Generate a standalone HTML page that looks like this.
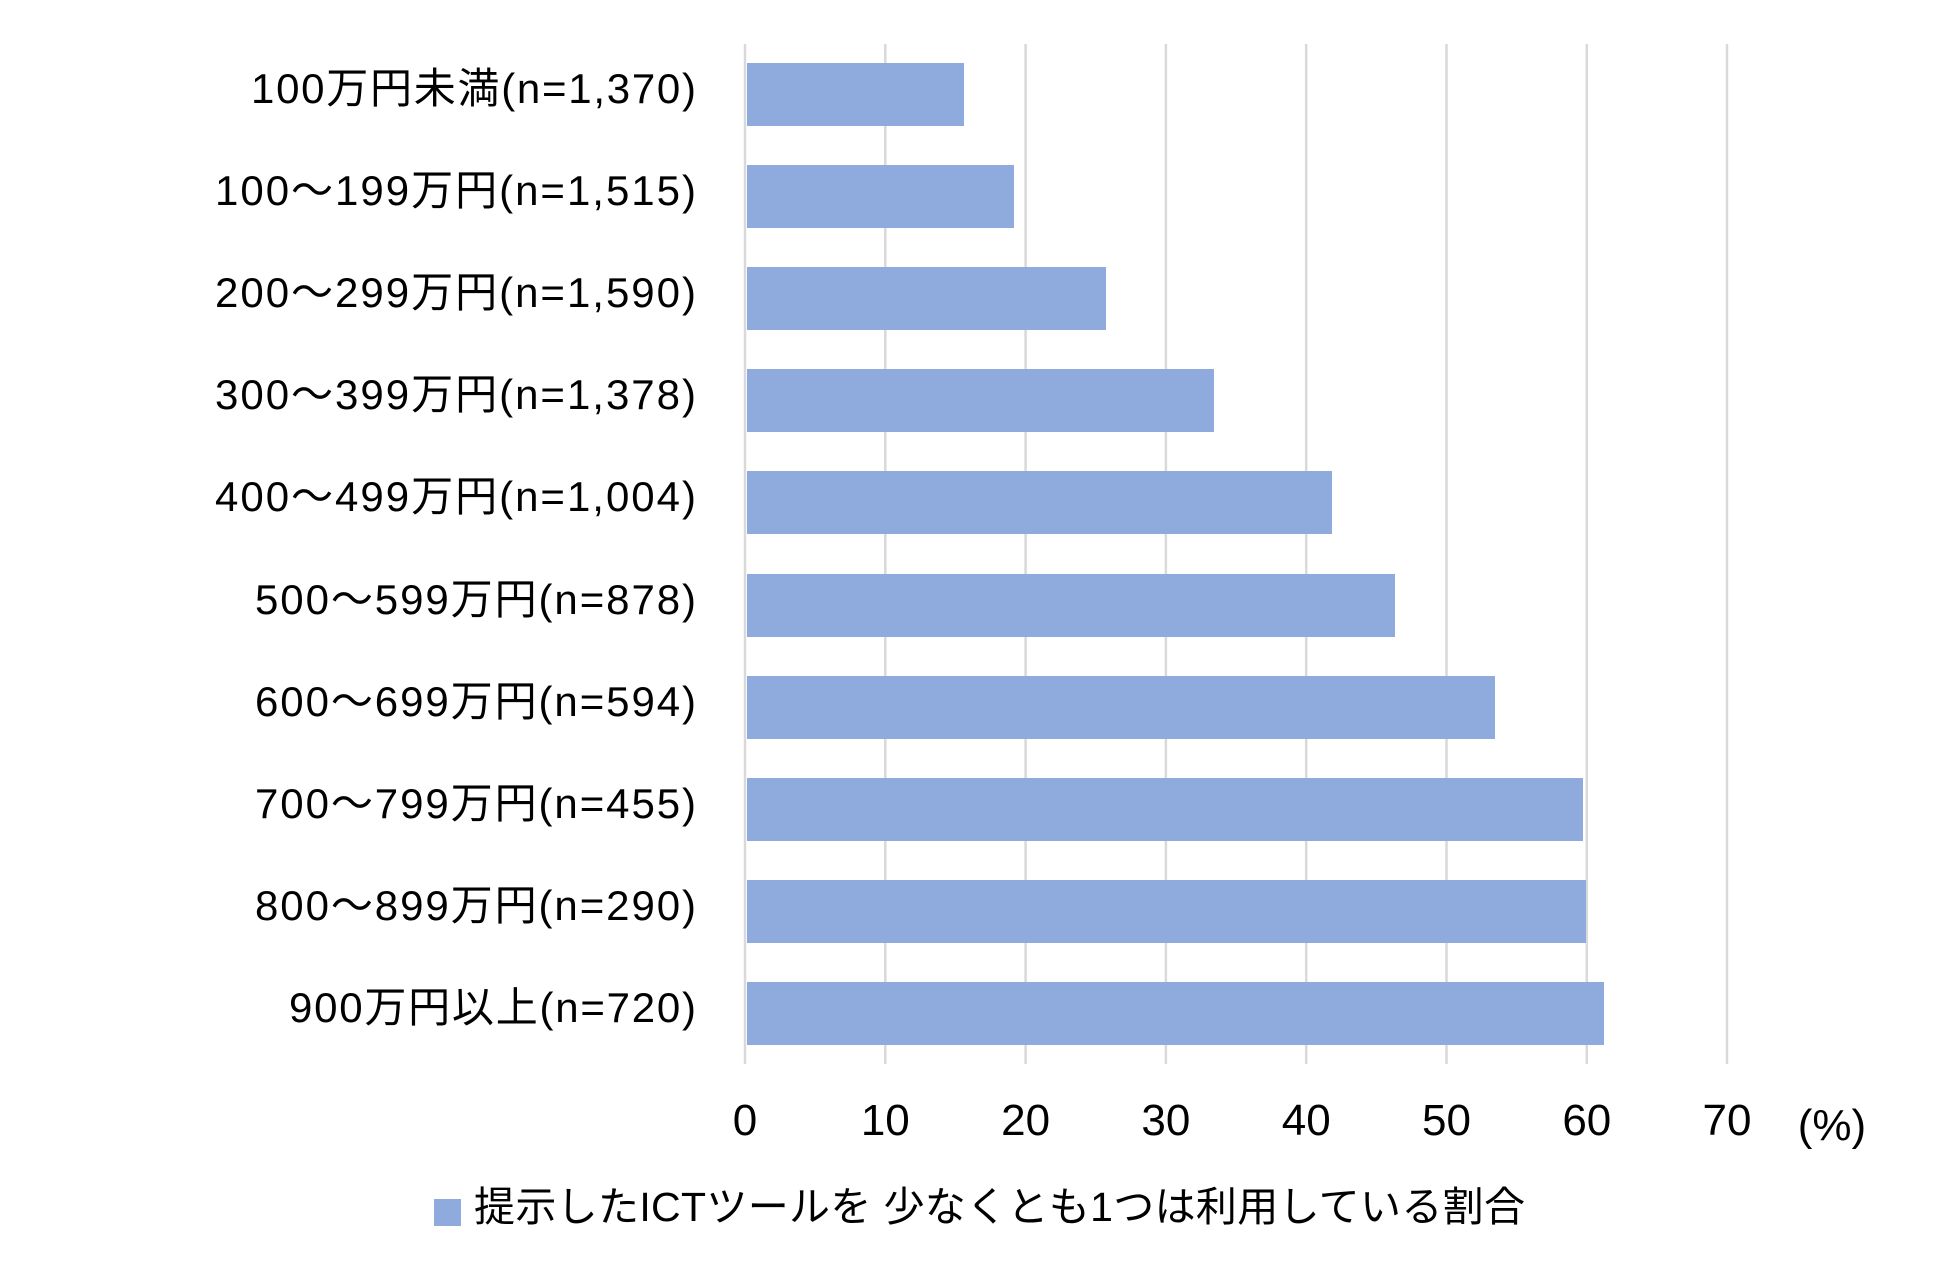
<!DOCTYPE html>
<html><head><meta charset="utf-8"><style>
html,body{margin:0;padding:0;background:#fff}
svg{display:block}
text{font-family:"Liberation Sans","Noto Sans CJK JP",sans-serif;fill:#000}
</style></head><body>
<svg width="1949" height="1285" viewBox="0 0 1949 1285">
<g stroke="#d9d9d9" stroke-width="2.5">
<line x1="745" y1="44" x2="745" y2="1064"/>
<line x1="885.3" y1="44" x2="885.3" y2="1064"/>
<line x1="1025.6" y1="44" x2="1025.6" y2="1064"/>
<line x1="1165.9" y1="44" x2="1165.9" y2="1064"/>
<line x1="1306.2" y1="44" x2="1306.2" y2="1064"/>
<line x1="1446.5" y1="44" x2="1446.5" y2="1064"/>
<line x1="1586.8" y1="44" x2="1586.8" y2="1064"/>
<line x1="1727" y1="44" x2="1727" y2="1064"/>
</g>
<g fill="#8faadc">
<rect x="747" y="63" width="217" height="63"/>
<rect x="747" y="165" width="267" height="63"/>
<rect x="747" y="267" width="359" height="63"/>
<rect x="747" y="369" width="467" height="63"/>
<rect x="747" y="471" width="585" height="63"/>
<rect x="747" y="574" width="648" height="63"/>
<rect x="747" y="676" width="748" height="63"/>
<rect x="747" y="778" width="836" height="63"/>
<rect x="747" y="880" width="839" height="63"/>
<rect x="747" y="982" width="857" height="63"/>
</g>
<g font-size="42" lengthAdjust="spacing">
<text x="251" y="103" textLength="445" lengthAdjust="spacing">100万円未満(n=1,370)</text>
<text x="215" y="205" textLength="481" lengthAdjust="spacing">100～199万円(n=1,515)</text>
<text x="215" y="307" textLength="481" lengthAdjust="spacing">200～299万円(n=1,590)</text>
<text x="215" y="409" textLength="481" lengthAdjust="spacing">300～399万円(n=1,378)</text>
<text x="215" y="511" textLength="481" lengthAdjust="spacing">400～499万円(n=1,004)</text>
<text x="255" y="614" textLength="441" lengthAdjust="spacing">500～599万円(n=878)</text>
<text x="255" y="716" textLength="441" lengthAdjust="spacing">600～699万円(n=594)</text>
<text x="255" y="818" textLength="441" lengthAdjust="spacing">700～799万円(n=455)</text>
<text x="255" y="920" textLength="441" lengthAdjust="spacing">800～899万円(n=290)</text>
<text x="289" y="1022" textLength="407" lengthAdjust="spacing">900万円以上(n=720)</text>
</g>
<g font-size="44" text-anchor="middle">
<text x="745" y="1135">0</text>
<text x="885.3" y="1135">10</text>
<text x="1025.6" y="1135">20</text>
<text x="1165.9" y="1135">30</text>
<text x="1306.2" y="1135">40</text>
<text x="1446.5" y="1135">50</text>
<text x="1586.8" y="1135">60</text>
<text x="1727" y="1135">70</text>
<text x="1832" y="1140">(%)</text>
</g>
<rect x="434" y="1199" width="27" height="27" fill="#8faadc"/>
<text x="474" y="1221" font-size="41" textLength="1051" lengthAdjust="spacing">提示したICTツールを 少なくとも1つは利用している割合</text>
</svg>
</body></html>
